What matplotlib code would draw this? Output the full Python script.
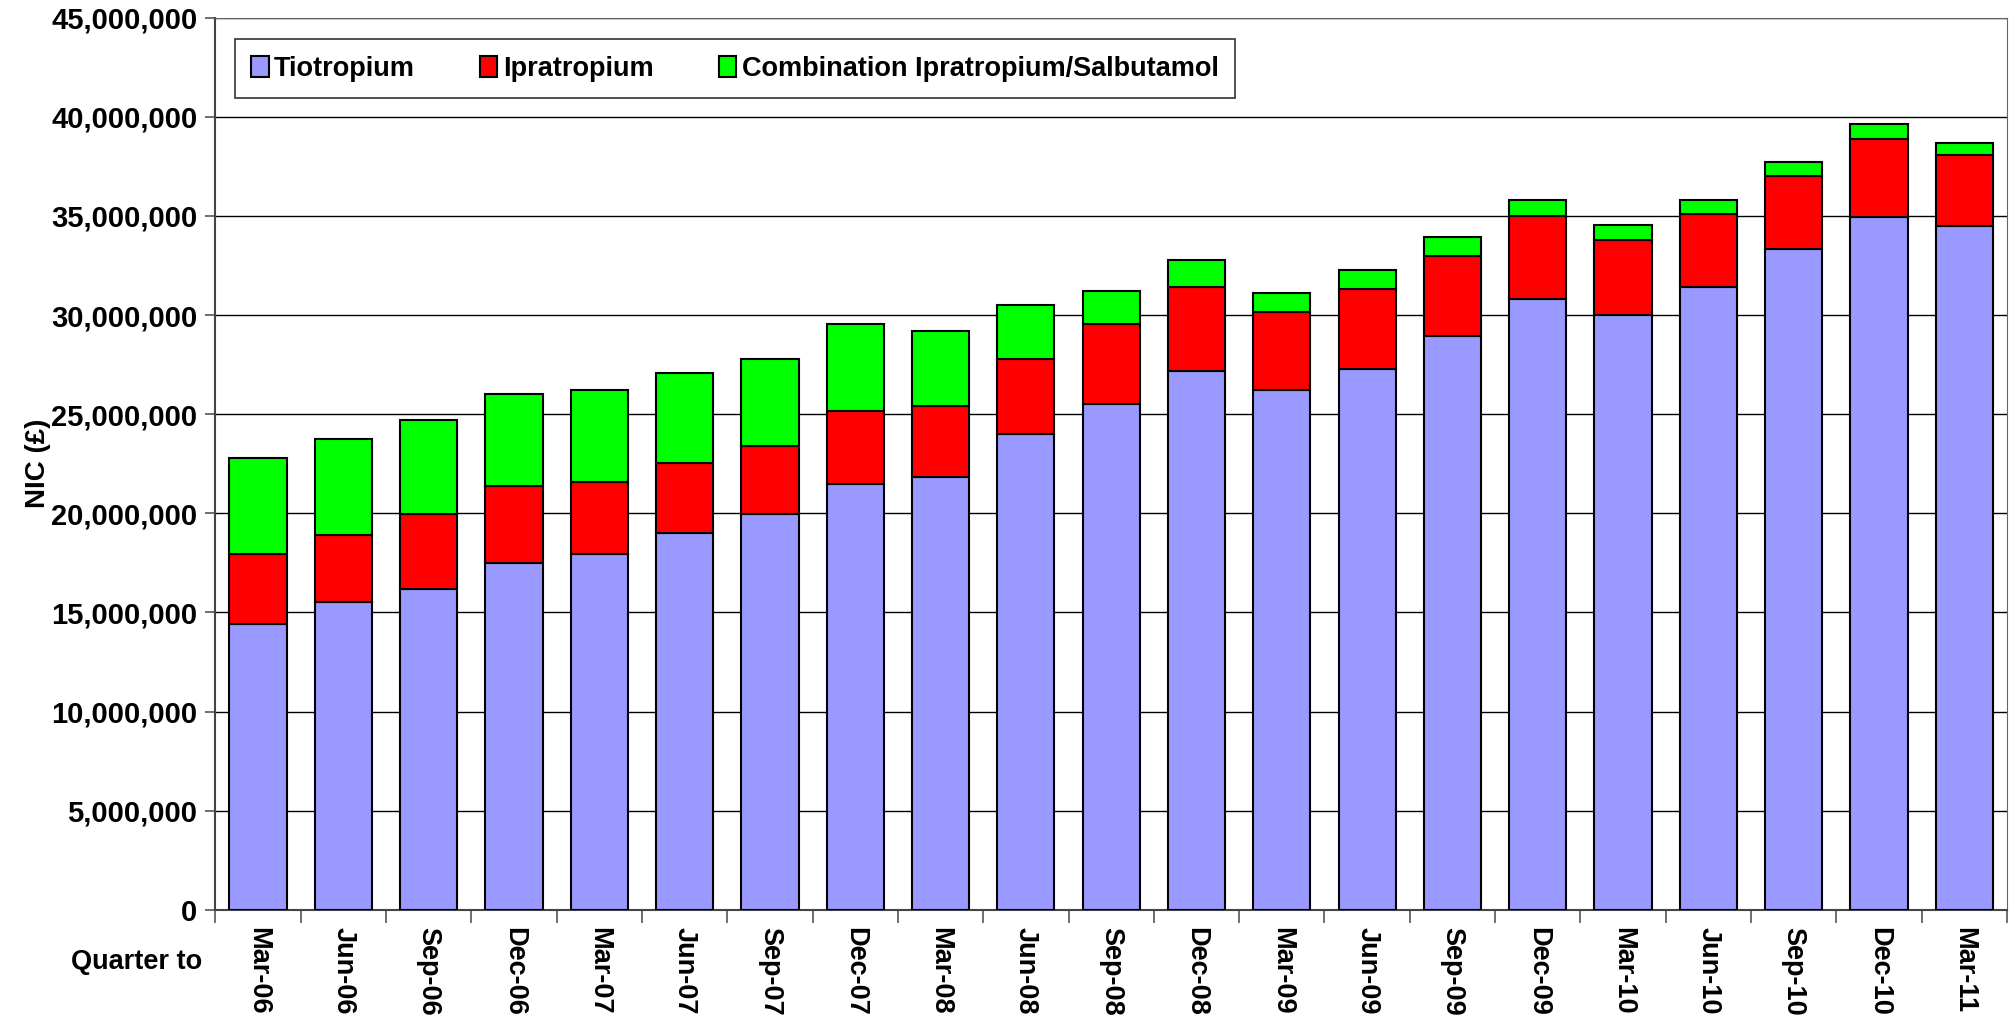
import matplotlib.pyplot as plt
from matplotlib.ticker import FuncFormatter, FixedLocator
import numpy as np

plt.rcParams['font.family'] = ['Liberation Sans', 'DejaVu Sans']
plt.rcParams['font.weight'] = 'bold'

quarters = ['Mar-06', 'Jun-06', 'Sep-06', 'Dec-06', 'Mar-07', 'Jun-07', 'Sep-07',
            'Dec-07', 'Mar-08', 'Jun-08', 'Sep-08', 'Dec-08', 'Mar-09', 'Jun-09',
            'Sep-09', 'Dec-09', 'Mar-10', 'Jun-10', 'Sep-10', 'Dec-10', 'Mar-11']

# cumulative tops (millions)
tio_top = [14.41, 15.51, 16.18, 17.48, 17.94, 19.01, 19.97, 21.50, 21.84, 24.00, 25.53,
           27.16, 26.23, 27.30, 28.93, 30.83, 29.99, 31.42, 33.32, 34.95, 34.49]
ipra_top = [17.94, 18.91, 19.97, 21.37, 21.60, 22.54, 23.40, 25.17, 25.40, 27.80, 29.56,
            31.42, 30.13, 31.32, 32.99, 34.99, 33.79, 35.09, 37.02, 38.88, 38.05]
comb_top = [22.80, 23.77, 24.70, 26.00, 26.23, 27.06, 27.80, 29.56, 29.19, 30.49, 31.22,
            32.76, 31.09, 32.29, 33.92, 35.82, 34.52, 35.82, 37.72, 39.61, 38.65]

tiotropium = np.array(tio_top) * 1e6
ipratropium = (np.array(ipra_top) - np.array(tio_top)) * 1e6
combination = (np.array(comb_top) - np.array(ipra_top)) * 1e6


def main():
    fig = plt.figure(figsize=(20.13, 10.34), dpi=100)
    ax = fig.add_axes([0.107, 0.12, 0.890, 0.863])
    x = np.arange(len(quarters))
    w = 0.67
    ax.bar(x, tiotropium, w, color='#9999FF', edgecolor='black', linewidth=1.5,
           label='Tiotropium', zorder=3)
    ax.bar(x, ipratropium, w, bottom=tiotropium, color='#FF0000', edgecolor='black',
           linewidth=1.5, label='Ipratropium', zorder=3)
    ax.bar(x, combination, w, bottom=tiotropium + ipratropium, color='#00FF00',
           edgecolor='black', linewidth=1.5,
           label='Combination Ipratropium/Salbutamol', zorder=3)

    ax.set_xlim(-0.5, len(quarters) - 0.5)
    ax.set_ylim(0, 45e6)
    ax.set_yticks(np.arange(0, 45e6 + 1, 5e6))
    ax.yaxis.set_major_formatter(FuncFormatter(lambda v, p: f'{int(v):,}'))
    ax.yaxis.grid(True, color='black', linewidth=1, zorder=0)

    ax.set_xticks(x)
    ax.set_xticklabels(quarters, rotation=-90, fontsize=19.5, fontweight='bold')
    ax.tick_params(axis='x', which='major', length=0, pad=12)
    ax.xaxis.set_minor_locator(FixedLocator(np.arange(-0.5, len(quarters), 1)))
    ax.tick_params(axis='x', which='minor', length=9, width=1.2, color='#555555')
    ax.tick_params(axis='y', labelsize=21, length=7, width=1.2, color='#555555', pad=6)
    for lbl in ax.get_yticklabels():
        lbl.set_fontweight('bold')

    for s in ['top', 'right']:
        ax.spines[s].set_color('#666666')
    for s in ['left', 'bottom']:
        ax.spines[s].set_color('#444444')
        ax.spines[s].set_linewidth(1.5)

    fig.text(0.019, 0.552, 'NIC (£)', fontsize=20, fontweight='bold',
             rotation=90, ha='center', va='center')
    fig.text(0.1003, 0.0696, 'Quarter to', fontsize=19.5, fontweight='bold',
             ha='right', va='center')

    leg = ax.legend(loc='upper left', bbox_to_anchor=(0.0108, 0.9755), ncol=3,
                    fontsize=19.5, frameon=True, fancybox=False, edgecolor='black',
                    handlelength=0.65, handleheight=0.8, columnspacing=2.4,
                    borderpad=0.6, handletextpad=0.2, borderaxespad=0)
    leg.get_frame().set_linewidth(1.2)
    for t in leg.get_texts():
        t.set_fontweight('bold')

    fig.savefig('out.png', dpi=100)


if __name__ == "__main__":
    main()
